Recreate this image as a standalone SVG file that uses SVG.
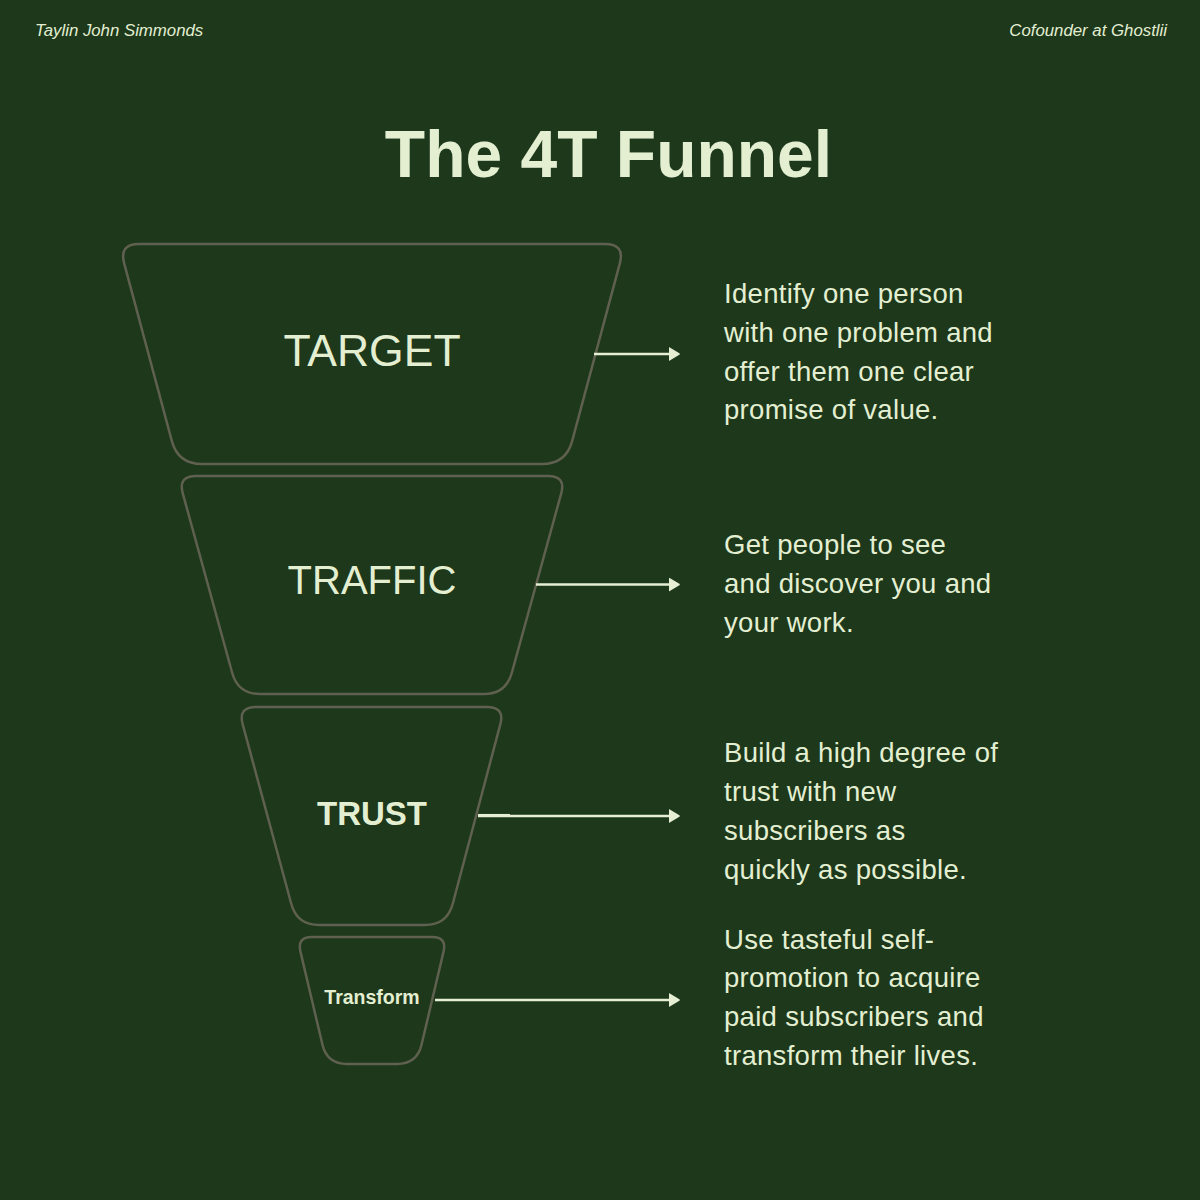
<svg xmlns="http://www.w3.org/2000/svg" width="1200" height="1200" viewBox="0 0 1200 1200">
<defs>
<style>
.bg{fill:#1d381b}
.hdr{font-family:"Liberation Sans",Arial,sans-serif;font-style:italic;font-size:16.8px;fill:#e4efd2}
.title{font-family:"Liberation Sans",Arial,sans-serif;font-weight:bold;font-size:66px;fill:#e4efd2}
.shape{fill:#1d381b;stroke:#5f604f;stroke-width:2.5}
.lbl{font-family:"Liberation Sans",Arial,sans-serif;fill:#e4efd2;text-anchor:middle}
.desc{font-family:"Liberation Sans",Arial,sans-serif;font-size:27.5px;fill:#e4efd2;letter-spacing:0.3px}
.conn{stroke:#e6efd3;stroke-width:2.5;fill:none}
</style>
<marker id="ah" markerUnits="userSpaceOnUse" markerWidth="12" markerHeight="14" viewBox="0 0 12 14" refX="2" refY="7" orient="auto">
<path d="M0,1 L10,7 L0,13 Z" fill="#e6efd3" stroke="#e6efd3" stroke-width="1.5" stroke-linejoin="round"/>
</marker>
</defs>
<rect class="bg" x="0" y="0" width="1200" height="1200"/>
<text class="hdr" x="35" y="36">Taylin John Simmonds</text>
<text class="hdr" x="1167" y="36" text-anchor="end">Cofounder at Ghostlii</text>
<text class="title" x="608.5" y="177" text-anchor="middle">The 4T Funnel</text>

<g id="target">
<path class="shape" d="M139,244 L605,244 Q625,244 619.82,263.32 L572.21,440.82 Q566,464 542,464 L202,464 Q178,464 171.79,440.82 L124.18,263.32 Q119,244 139,244 Z"/>
<text class="lbl" x="372" y="366" font-size="44.5">TARGET</text>
</g>
<g id="traffic">
<path class="shape" d="M196,476 L548,476 Q566,476 561.23,493.36 L511.84,672.79 Q506,694 484,694 L260,694 Q238,694 232.16,672.79 L182.77,493.36 Q178,476 196,476 Z"/>
<text class="lbl" x="372" y="594" font-size="40">TRAFFIC</text>
</g>
<g id="trust">
<path class="shape" d="M256,707 L487,707 Q505,707 500.29,724.41 L452.76,903.72 Q447,925 425,925 L319,925 Q297,925 291.24,903.72 L242.71,724.41 Q238,707 256,707 Z"/>
<text class="lbl" x="372" y="825" font-size="33" font-weight="bold">TRUST</text>
</g>
<g id="transform">
<path class="shape" d="M312,937 L432,937 Q447,937 443.55,951.60 L421.59,1044.53 Q417,1064 397,1064 L347,1064 Q327,1064 322.41,1044.53 L300.45,951.60 Q297,937 312,937 Z"/>
<text class="lbl" x="372" y="1004" font-size="19.5" font-weight="bold">Transform</text>
</g>

<g id="descriptions">
<text class="desc" x="724"><tspan x="724" y="303">Identify one person</tspan><tspan x="724" y="341.8">with one problem and</tspan><tspan x="724" y="380.6">offer them one clear</tspan><tspan x="724" y="419.4">promise of value.</tspan></text>
<text class="desc" x="724"><tspan x="724" y="554">Get people to see</tspan><tspan x="724" y="592.8">and discover you and</tspan><tspan x="724" y="631.6">your work.</tspan></text>
<text class="desc" x="724"><tspan x="724" y="762.3">Build a high degree of</tspan><tspan x="724" y="801.1">trust with new</tspan><tspan x="724" y="839.9">subscribers as</tspan><tspan x="724" y="878.7">quickly as possible.</tspan></text>
<text class="desc" x="724"><tspan x="724" y="948.5">Use tasteful self-</tspan><tspan x="724" y="987.3">promotion to acquire</tspan><tspan x="724" y="1026.1">paid subscribers and</tspan><tspan x="724" y="1064.9">transform their lives.</tspan></text>
</g>

<g id="connectors">
<line class="conn" x1="594" y1="354" x2="671" y2="354" marker-end="url(#ah)"/>
<line class="conn" x1="536" y1="584.5" x2="671" y2="584.5" marker-end="url(#ah)"/>
<line class="conn" x1="478" y1="816" x2="671" y2="816" marker-end="url(#ah)"/>
<line class="conn" x1="478" y1="815.2" x2="510" y2="815.2" stroke-width="2"/>
<line class="conn" x1="435" y1="1000" x2="671" y2="1000" marker-end="url(#ah)"/>
</g>
</svg>
